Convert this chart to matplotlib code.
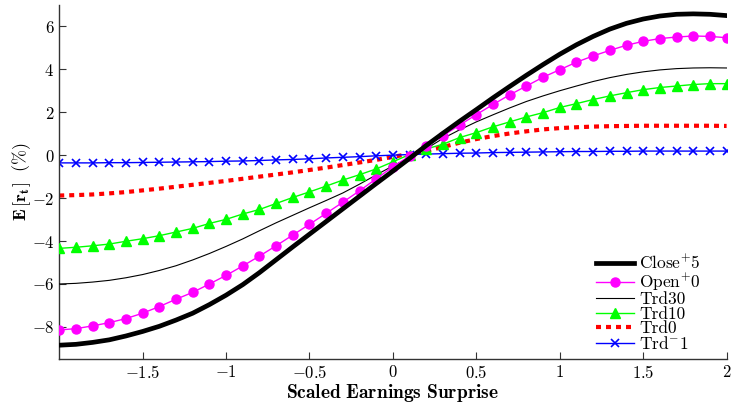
import numpy as np
import matplotlib
matplotlib.use("Agg")
import matplotlib.pyplot as plt

plt.rcParams['font.family'] = 'cmr10'
plt.rcParams['mathtext.fontset'] = 'cm'
plt.rcParams['axes.formatter.use_mathtext'] = True
plt.rcParams['axes.unicode_minus'] = True

surprise = np.linspace(-2, 2, 41)

close5 = [-8.85, -8.81, -8.72, -8.60, -8.42, -8.21, -7.97, -7.68, -7.36, -6.96,
          -6.52, -6.03, -5.47, -4.87, -4.27, -3.68, -3.09, -2.50, -1.91, -1.32,
          -0.74, -0.15, 0.45, 1.02, 1.58, 2.12, 2.67, 3.20, 3.72, 4.22,
          4.70, 5.14, 5.53, 5.87, 6.14, 6.34, 6.48, 6.56, 6.58, 6.56, 6.50]
open0 = [-8.14, -8.08, -7.95, -7.80, -7.61, -7.36, -7.05, -6.71, -6.39, -6.00,
         -5.60, -5.16, -4.70, -4.22, -3.72, -3.22, -2.71, -2.19, -1.66, -1.10,
         -0.54, -0.04, 0.44, 0.91, 1.40, 1.89, 2.36, 2.81, 3.22, 3.63,
         3.98, 4.33, 4.62, 4.88, 5.12, 5.30, 5.43, 5.50, 5.55, 5.53, 5.47]
trd30 = [-6.00, -5.97, -5.91, -5.83, -5.71, -5.56, -5.37, -5.15, -4.88, -4.58,
         -4.25, -3.90, -3.52, -3.15, -2.80, -2.45, -2.11, -1.76, -1.35, -0.92,
         -0.50, -0.12, 0.30, 0.78, 1.18, 1.55, 1.88, 2.20, 2.50, 2.76,
         3.00, 3.22, 3.43, 3.61, 3.76, 3.88, 3.97, 4.03, 4.06, 4.07, 4.06]
trd10 = [-4.34, -4.29, -4.22, -4.14, -4.01, -3.89, -3.75, -3.58, -3.41, -3.18,
         -2.99, -2.74, -2.53, -2.25, -1.97, -1.71, -1.44, -1.16, -0.91, -0.64,
         -0.31, 0.03, 0.29, 0.51, 0.82, 1.05, 1.32, 1.55, 1.78, 1.98,
         2.22, 2.40, 2.59, 2.76, 2.91, 3.05, 3.15, 3.22, 3.29, 3.33, 3.33]
trd0 = [-1.88, -1.86, -1.83, -1.78, -1.72, -1.64, -1.56, -1.47, -1.38, -1.29,
        -1.20, -1.10, -1.00, -0.90, -0.80, -0.69, -0.58, -0.46, -0.34, -0.22,
        -0.08, 0.06, 0.20, 0.38, 0.58, 0.75, 0.89, 1.01, 1.11, 1.20,
        1.26, 1.30, 1.33, 1.35, 1.36, 1.37, 1.37, 1.37, 1.37, 1.37, 1.36]
trdm1 = [-0.36, -0.36, -0.36, -0.35, -0.35, -0.34, -0.33, -0.32, -0.31, -0.30,
         -0.28, -0.27, -0.25, -0.22, -0.20, -0.17, -0.13, -0.10, -0.07, -0.03,
         0.00, 0.03, 0.05, 0.07, 0.09, 0.10, 0.12, 0.13, 0.14, 0.15,
         0.16, 0.17, 0.17, 0.18, 0.18, 0.19, 0.19, 0.19, 0.19, 0.19, 0.19]

fig = plt.figure(figsize=(7.31, 4.04), dpi=100)
ax = fig.add_axes([0.081, 0.111, 0.913, 0.877])

ax.plot(surprise, close5, color='black', lw=3.4, label='Close$^{+}$5', zorder=5)
ax.plot(surprise, open0, color='#ff00ff', lw=1.0, marker='o', ms=6.5,
        label='Open$^{+}$0', zorder=4)
ax.plot(surprise, trd30, color='black', lw=0.8, label='Trd30', zorder=3)
ax.plot(surprise, trd10, color='#00ff00', lw=1.0, marker='^', ms=7,
        label='Trd10', zorder=3)
ax.plot(surprise, trd0, color='#ff0000', lw=3.0, ls=(0, (1.2, 1.2)),
        label='Trd0', zorder=2)
ax.plot(surprise, trdm1, color='#0000ff', lw=1.0, marker='x', ms=6, mew=1.2,
        label='Trd$^{-}$1', zorder=2)

ax.set_xlim(-2, 2)
ax.set_ylim(-9.5, 7)
ax.set_xticks([-1.5, -1, -0.5, 0, 0.5, 1, 1.5, 2])
ax.set_yticks([-8, -6, -4, -2, 0, 2, 4, 6])
ax.set_xticklabels(['$-1.5$', '$-1$', '$-0.5$', '$0$', '$0.5$', '$1$', '$1.5$', '$2$'])
ax.set_yticklabels(['$-8$', '$-6$', '$-4$', '$-2$', '$0$', '$2$', '$4$', '$6$'])

for s in ['top', 'right']:
    ax.spines[s].set_visible(False)
for s in ['left', 'bottom']:
    ax.spines[s].set_color('#333333')
    ax.spines[s].set_linewidth(1.0)
ax.tick_params(direction='in', length=5, width=0.8, colors='#333333',
               labelsize=12, labelcolor='black')

ax.set_xlabel(r'$\mathbf{Scaled\ Earnings\ Surprise}$', fontsize=14, labelpad=1)
ax.set_ylabel(r'$\mathbf{E}\,[\mathbf{r_t}]\ \ (\%)$', fontsize=13)
ax.yaxis.set_label_coords(-0.040, 0.5)

leg = ax.legend(loc='lower right', bbox_to_anchor=(0.972, 0.0), frameon=False,
                fontsize=12.5, handlelength=2.2, labelspacing=-0.05,
                borderaxespad=0.0, handletextpad=0.3)

fig.savefig('out.png', dpi=100)
